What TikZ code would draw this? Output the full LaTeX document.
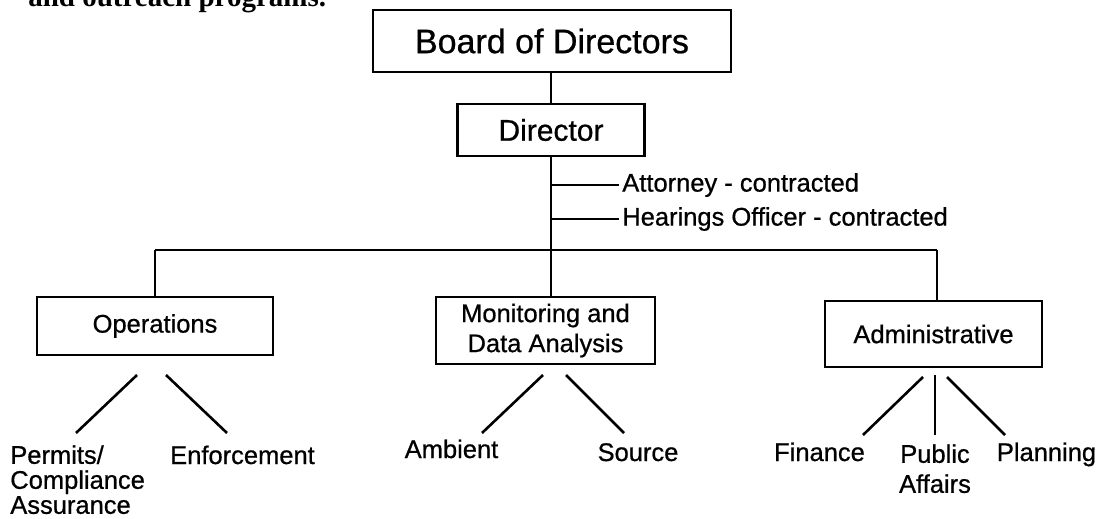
\documentclass[tikz,border=0pt]{standalone}
\usepackage{fontspec}
\setmainfont{Liberation Sans}[BoldFont={Liberation Sans}, BoldFeatures={FakeBold=0.7}]
\newfontfamily\introface{Liberation Serif}
\begin{document}
\begin{tikzpicture}[x=1pt,y=-1pt,line width=2.6pt,
  box/.style={draw, inner sep=0pt, align=center, font=\bfseries\fontsize{25.5}{30}\selectfont},
  lbl/.style={inner sep=0pt, font=\bfseries\fontsize{25.5}{30}\selectfont},
  side/.style={inner sep=2pt, anchor=west, font=\bfseries\fontsize{25.5}{30}\selectfont}]
\useasboundingbox (0,0) rectangle (1100,519);
\clip (0,0) rectangle (1100,519);
\fill[white] (0,0) rectangle (1100,519);
% clipped intro text
\node[anchor=base west, inner sep=0pt, font=\introface\bfseries\fontsize{29}{30}\selectfont] (intro) at (27,7) {and outreach programs.};
% boxes
\node[box, minimum width=358pt, minimum height=62pt, font=\bfseries\fontsize{34}{40}\selectfont] (board) at (552,41) {Board of Directors};
\node[box, minimum width=187pt, minimum height=52pt, font=\bfseries\fontsize{30}{36}\selectfont] (dir) at (551,130) {Director};
\node[box, minimum width=236pt, minimum height=58pt] (ops) at (155,326) {Operations};
\node[box, minimum width=219pt, minimum height=67pt] (mon) at (545.5,330.5) {Monitoring and\\Data Analysis};
\node[box, minimum width=217pt, minimum height=66pt] (adm) at (933.5,334) {Administrative};
% trunk
\draw (dir.north) -- (dir.north |- board.south);
\coordinate (jatt) at (551,185);
\coordinate (jhear) at (551,219);
\coordinate (jl) at (155,250);
\coordinate (jr) at (937,250);
\draw (dir.south) -- (dir.south |- mon.north);
\draw (jl) -- (jr);
\draw (jl) -- (ops.north);
\draw (jr) -- (jr |- adm.north);
% contracted
\node[side] (att) at (619,185) {Attorney - contracted};
\node[side] (hear) at (619,219) {Hearings Officer - contracted};
\draw (jatt) -- (att.west);
\draw (jhear) -- (hear.west);
% sub-units
\node[lbl, anchor=north west, align=left, font=\bfseries\fontsize{25.5}{25}\selectfont] (perm) at (9,444) {Permits/\\Compliance\\Assurance};
\node[lbl, anchor=base] (enf) at (242.5,464) {Enforcement};
\node[lbl, anchor=base] (amb) at (451.5,458) {Ambient};
\node[lbl, anchor=base] (src) at (638,461) {Source};
\node[lbl, anchor=base] (fin) at (819.5,461) {Finance};
\node[lbl, anchor=north, align=center, font=\bfseries\fontsize{25.5}{30}\selectfont] (pub) at (935,443) {Public\\Affairs};
\node[lbl, anchor=base] (plan) at (1046.5,461) {Planning};
% sub-unit connectors
\coordinate (o1a) at (137,375); \coordinate (o1b) at (76,433);
\coordinate (o2a) at (166,375); \coordinate (o2b) at (227,433);
\coordinate (m1a) at (543,375); \coordinate (m1b) at (482,433);
\coordinate (m2a) at (566,375); \coordinate (m2b) at (624,433);
\coordinate (a1a) at (923,377); \coordinate (a1b) at (863,435);
\coordinate (a2a) at (935,375); \coordinate (a2b) at (935,435);
\coordinate (a3a) at (947,377); \coordinate (a3b) at (1005,435);
\draw (o1a) -- (o1b);
\draw (o2a) -- (o2b);
\draw (m1a) -- (m1b);
\draw (m2a) -- (m2b);
\draw (a1a) -- (a1b);
\draw (a2a) -- (a2b);
\draw (a3a) -- (a3b);
\end{tikzpicture}
\end{document}
